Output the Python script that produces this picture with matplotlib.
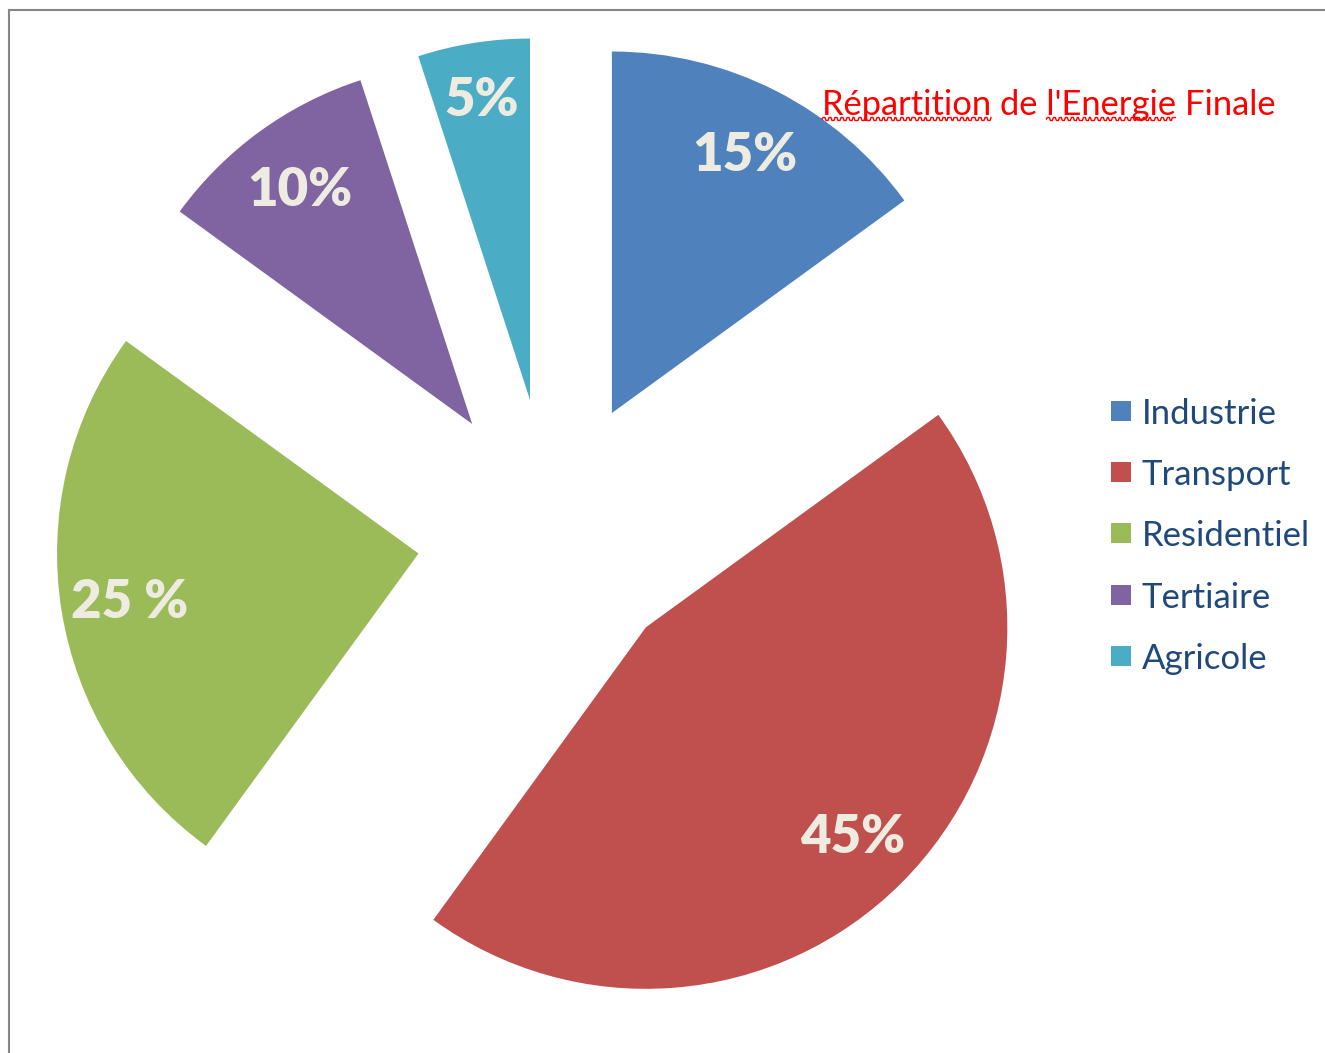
import numpy as np
import matplotlib
matplotlib.use("Agg")
import matplotlib.pyplot as plt
from matplotlib.lines import Line2D
from matplotlib.patches import Rectangle

# Final energy breakdown by sector (%)
sectors = ["Industrie", "Transport", "Residentiel", "Tertiaire", "Agricole"]
shares = [15, 45, 25, 10, 5]
share_labels = ["15%", "45%", "25 %", "10%", "5%"]
colors = ["#4F81BD", "#C0504D", "#9BBB59", "#8064A2", "#4BACC6"]
title = "Répartition de l'Energie Finale"

W, H, DPI = 1325, 1053, 100
fig = plt.figure(figsize=(W / DPI, H / DPI), dpi=DPI)
fig.patch.set_facecolor("white")

# Axes covering the whole figure; limits chosen for a fixed px-per-unit scale
ax = fig.add_axes([0, 0, 1, 1])
scale = 361.5
explode = 0.371
cx_px, cy_px = 551.0, H - 532.5
ax.pie(shares, colors=colors, startangle=90, counterclock=False,
       explode=[explode] * len(shares), radius=1.0,
       wedgeprops=dict(linewidth=0))
ax.set_xlim(-cx_px / scale, (W - cx_px) / scale)
ax.set_ylim(-cy_px / scale, (H - cy_px) / scale)
ax.set_aspect("auto")
ax.axis("off")

# Percentage labels placed inside each exploded wedge
start = 90.0
for val, lab in zip(shares, share_labels):
    span = 360.0 * val / sum(shares)
    mid = np.deg2rad(start - span / 2)
    start -= span
    ox, oy = explode * np.cos(mid), explode * np.sin(mid)
    r = 0.81 if val > 5 else 0.85
    ax.text(ox + r * np.cos(mid), oy + r * np.sin(mid) - 3.5 / scale, lab,
            ha="center", va="center", color="#EEECE1",
            fontsize=38, fontweight="heavy", family="Lato")

# Legend: colored squares with sector names
for i, (name, col) in enumerate(zip(sectors, colors)):
    y = H - (411 + 61.2 * i)
    fig.patches.append(Rectangle((1111 / W, (y - 10) / H), 20 / W, 20 / H,
                                 transform=fig.transFigure, facecolor=col,
                                 edgecolor="none"))
    fig.text(1142 / W, (y - 3) / H, name, ha="left", va="center",
             color="#1F497D", fontsize=25, family="Lato")

# Title in red with wavy underlines under two words
title_props = dict(color="#FF0000", fontsize=24.8, family="Lato")
tx, ty = 822, H - 115
t = fig.text(tx / W, ty / H, title, ha="left", va="baseline", **title_props)
fig.canvas.draw()
renderer = fig.canvas.get_renderer()


def text_width(s):
    tmp = fig.text(0, 0, s, **title_props)
    w = tmp.get_window_extent(renderer).width
    tmp.remove()
    return w


ext = t.get_window_extent(renderer)
base_y = ty - 4
for prefix, word in [("", "Répartition"), ("Répartition de ", "l'Energie")]:
    x0 = ext.x0 + (text_width(prefix) if prefix else 0)
    x1 = ext.x0 + text_width(prefix + word)
    xs = np.arange(x0, x1 + 0.1, 1.0)
    ys = base_y + 1.5 * np.sign(np.sin((xs - x0) * np.pi / 3.0))
    fig.lines.append(Line2D(xs / W, ys / H, transform=fig.transFigure,
                            color="#FF0000", linewidth=1.0))

# Frame lines along the top and left edges
fig.lines.append(Line2D([9 / W, 1], [1 - 9.5 / H, 1 - 9.5 / H],
                        transform=fig.transFigure, color="#868686", linewidth=1.5))
fig.lines.append(Line2D([9 / W, 9 / W], [0, 1 - 9.5 / H],
                        transform=fig.transFigure, color="#868686", linewidth=1.5))

fig.savefig("out.png", dpi=DPI, facecolor="white")
